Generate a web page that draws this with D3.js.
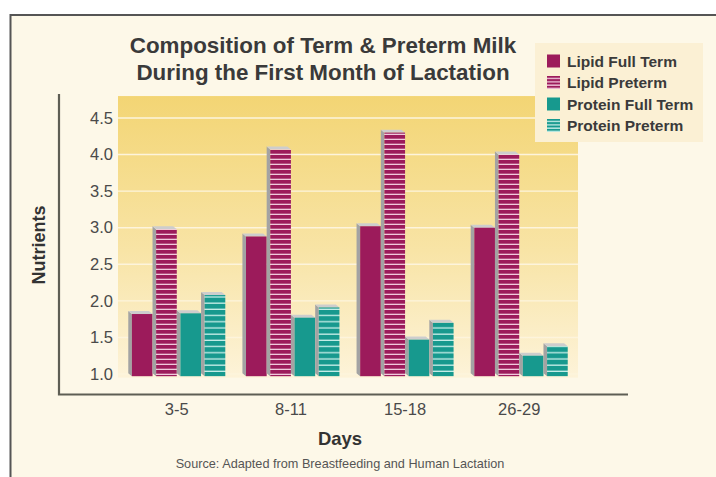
<!DOCTYPE html>
<html>
<head>
<meta charset="utf-8">
<script src="https://cdn.jsdelivr.net/npm/d3@7"></script>
<style>
  html, body { margin: 0; padding: 0; background: #ffffff; }
  svg { display: block; }
  text { font-family: "Liberation Sans", Arial, sans-serif; }
</style>
</head>
<body>
<svg id="chart" width="716" height="477"></svg>
<script>
// Nutrient composition of term vs preterm milk (g/dL)
const days = ["3-5", "8-11", "15-18", "26-29"];
const seriesNames = ["Lipid Full Term", "Lipid Preterm", "Protein Full Term", "Protein Preterm"];
const lipidFullTerm   = [1.82, 2.88, 3.02, 3.00];
const lipidPreterm    = [2.98, 4.07, 4.30, 4.00];
const proteinFullTerm = [1.83, 1.77, 1.47, 1.25];
const proteinPreterm  = [2.08, 1.91, 1.70, 1.38];
const yTicks = [1.0, 1.5, 2.0, 2.5, 3.0, 3.5, 4.0, 4.5];

const seriesValues = [lipidFullTerm, lipidPreterm, proteinFullTerm, proteinPreterm];
const seriesColor = ["#9c1b5b", "#9c1b5b", "#17998e", "#17998e"];
const seriesStriped = [false, true, false, true];

const svg = d3.select("#chart");
const W = 716, H = 477;

// page background and frame
svg.append("rect").attr("width", W).attr("height", H).attr("fill", "#ffffff");
svg.append("rect").attr("x", 10.5).attr("y", 15).attr("width", W + 20).attr("height", H + 20)
  .attr("fill", "#fdf8e8").attr("stroke", "#555555").attr("stroke-width", 2);

const plot = { left: 118, right: 578 };
const y = d3.scaleLinear().domain([1.0, 4.5]).range([374, 118]);
const plotTop = y(4.8), plotBottom = y(0.95);

const defs = svg.append("defs");
const grad = defs.append("linearGradient").attr("id", "plotGrad")
  .attr("x1", 0).attr("y1", 0).attr("x2", 0).attr("y2", 1);
grad.append("stop").attr("offset", "0%").attr("stop-color", "#f3d574");
grad.append("stop").attr("offset", "55%").attr("stop-color", "#f8e4a6");
grad.append("stop").attr("offset", "100%").attr("stop-color", "#fdf3d9");

// horizontal stripe patterns for the preterm bars
function stripePattern(id, base, line, step) {
  const p = defs.append("pattern").attr("id", id).attr("patternUnits", "userSpaceOnUse")
    .attr("width", 8).attr("height", step);
  p.append("rect").attr("width", 8).attr("height", step).attr("fill", base);
  p.append("rect").attr("y", step - 1.3).attr("width", 8).attr("height", 1.3).attr("fill", line);
}
stripePattern("stripeLipid", "#9c1b5b", "#f1c9dc", 5.0);
stripePattern("stripeProtein", "#17998e", "#c9efe9", 6.2);
stripePattern("stripeLipidKey", "#9c1b5b", "#f1c9dc", 3.3);
stripePattern("stripeProteinKey", "#17998e", "#c9efe9", 3.3);

// plot background
svg.append("rect").attr("x", plot.left).attr("y", plotTop)
  .attr("width", plot.right - plot.left).attr("height", plotBottom - plotTop)
  .attr("fill", "url(#plotGrad)");

// gridlines
svg.append("g").selectAll("line").data(yTicks).join("line")
  .attr("x1", plot.left).attr("x2", plot.right)
  .attr("y1", d => y(d)).attr("y2", d => y(d))
  .attr("stroke", "#fdf4dc").attr("stroke-width", 1.4);

// y axis labels
const yAxis = d3.axisLeft(y).tickValues(yTicks).tickFormat(d3.format(".1f")).tickSize(0).tickPadding(0);
const gy = svg.append("g").attr("transform", "translate(113,0)").call(yAxis);
gy.select(".domain").remove();
gy.selectAll("text").attr("font-size", 16.5).attr("fill", "#4a4a4a")
  .attr("font-family", "Liberation Sans, Arial, sans-serif");

// axis frame lines
svg.append("path").attr("d", "M59,94 V394.5 H628").attr("fill", "none")
  .attr("stroke", "#5e5e54").attr("stroke-width", 2.2);

// bars
const x0 = d3.scaleBand().domain(days).range([plot.left, plot.right]).paddingInner(0.15).paddingOuter(0.09);
const x1 = d3.scaleBand().domain(seriesNames).range([0, x0.bandwidth()]);
const side = 3.6, lift = 3;
const base = y(0.97);

const groups = svg.append("g").selectAll("g").data(days).join("g")
  .attr("transform", d => `translate(${x0(d)},0)`);

seriesNames.forEach((name, si) => {
  groups.each(function(day, di) {
    const v = seriesValues[si][di];
    const g = d3.select(this);
    const xf = x1(name) + side;
    const w = x1.bandwidth() - side;
    const yt = y(v);
    // left side face
    g.append("path")
      .attr("d", `M${xf},${yt} L${xf - side},${yt - lift} L${xf - side},${base - lift} L${xf},${base} Z`)
      .attr("fill", "#a3a3a3");
    // top face
    g.append("path")
      .attr("d", `M${xf},${yt} L${xf - side},${yt - lift} L${xf + w - side},${yt - lift} L${xf + w},${yt} Z`)
      .attr("fill", "#cdcdcd");
    // front face
    g.append("rect").attr("x", xf).attr("y", yt).attr("width", w).attr("height", base - yt)
      .attr("fill", seriesStriped[si] ? (si === 1 ? "url(#stripeLipid)" : "url(#stripeProtein)") : seriesColor[si]);
  });
});

// x axis labels
const xAxis = d3.axisBottom(x0).tickSize(0).tickPadding(0);
const gx = svg.append("g").attr("transform", "translate(0,403)").call(xAxis);
gx.select(".domain").remove();
gx.selectAll("text").attr("font-size", 16.5).attr("fill", "#4a4a4a")
  .attr("font-family", "Liberation Sans, Arial, sans-serif");

// axis titles
svg.append("text").attr("x", 340).attr("y", 444.5).attr("text-anchor", "middle")
  .attr("font-size", 18.5).attr("font-weight", "bold").attr("fill", "#333333").text("Days");
svg.append("text").attr("transform", "translate(45,245) rotate(-90)").attr("text-anchor", "middle")
  .attr("font-size", 18).attr("font-weight", "bold").attr("fill", "#333333").text("Nutrients");
svg.append("text").attr("x", 340).attr("y", 467.5).attr("text-anchor", "middle")
  .attr("font-size", 12.7).attr("fill", "#555555").text("Source: Adapted from Breastfeeding and Human Lactation");

// title
const title = svg.append("text").attr("text-anchor", "middle").attr("font-size", 22.4)
  .attr("font-weight", "bold").attr("fill", "#3a3a3a");
title.append("tspan").attr("x", 323).attr("y", 53).text("Composition of Term & Preterm Milk");
title.append("tspan").attr("x", 323).attr("y", 80).text("During the First Month of Lactation");

// legend
const legend = svg.append("g");
legend.append("rect").attr("x", 535).attr("y", 43).attr("width", 168).attr("height", 99)
  .attr("fill", "#fbf0d4");
const items = legend.selectAll("g").data(seriesNames).join("g")
  .attr("transform", (d, i) => `translate(547,${61 + i * 21.5})`);
items.append("rect").attr("x", 0).attr("y", -6.5).attr("width", 13).attr("height", 13)
  .attr("fill", (d, i) => seriesStriped[i] ? (i === 1 ? "url(#stripeLipidKey)" : "url(#stripeProteinKey)") : seriesColor[i]);
items.append("text").attr("x", 20).attr("y", 5.5).attr("font-size", 15.5).attr("font-weight", "bold")
  .attr("fill", "#3a3a3a").text(d => d);
</script>
</body>
</html>
